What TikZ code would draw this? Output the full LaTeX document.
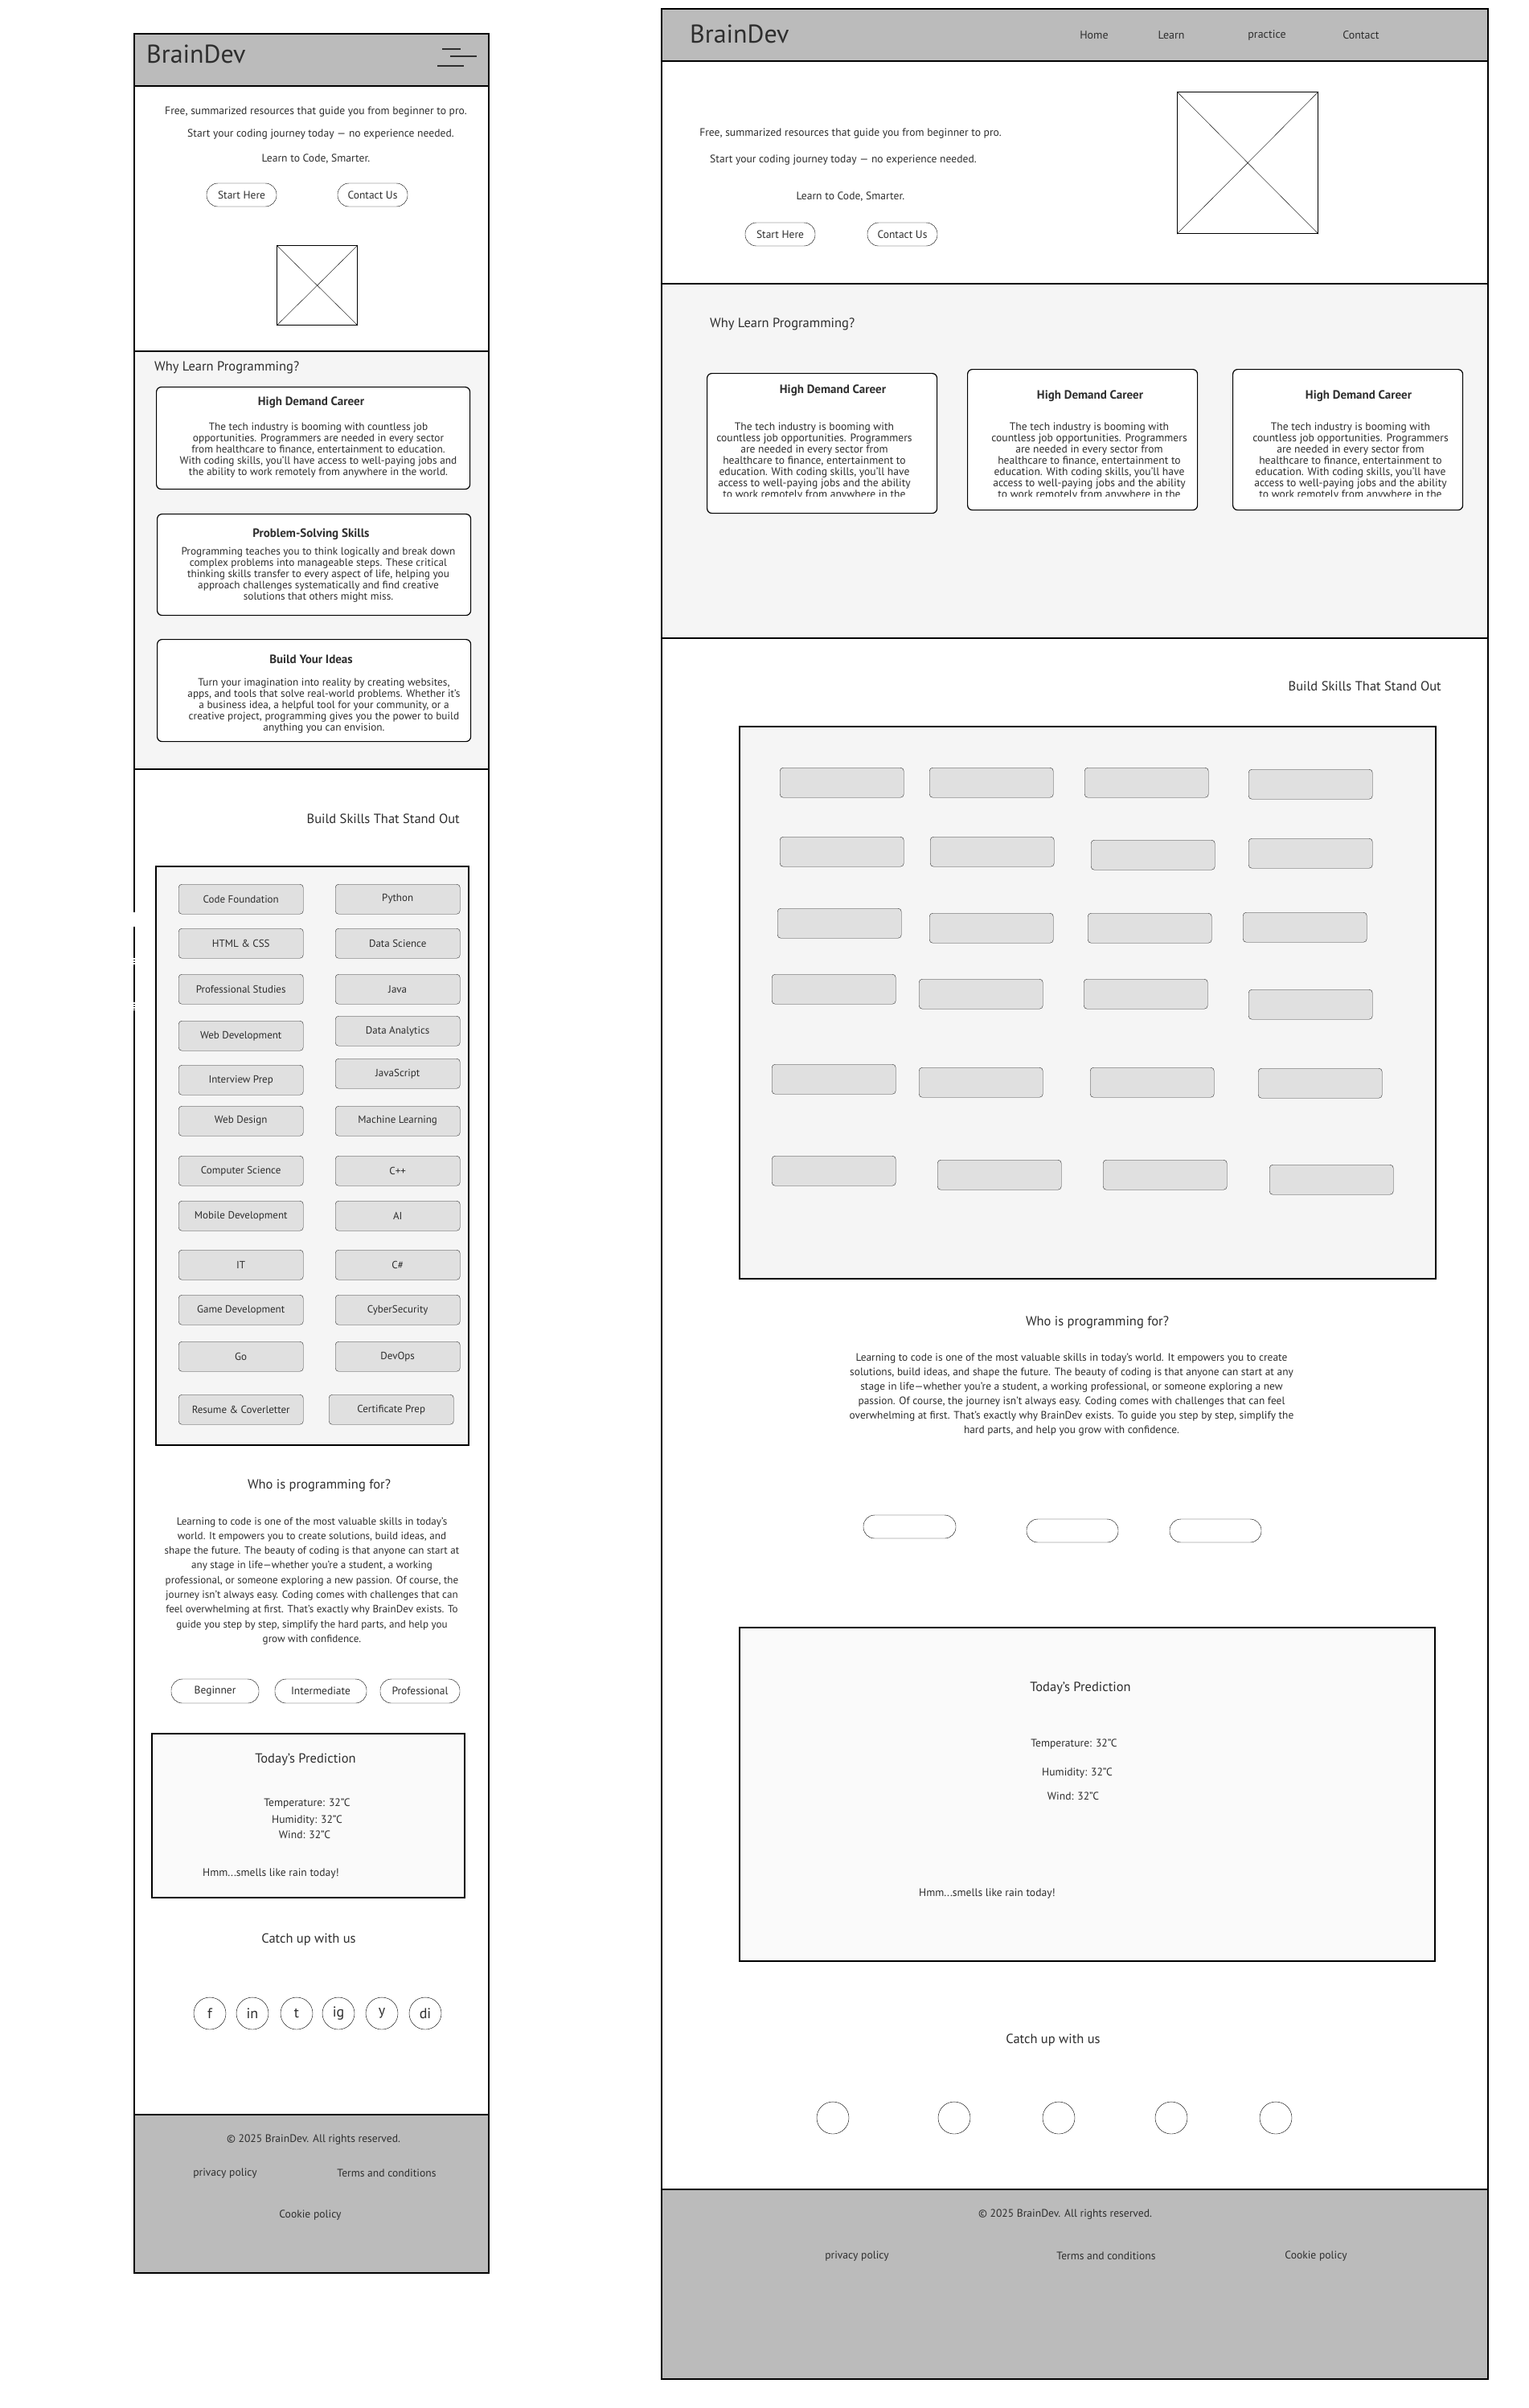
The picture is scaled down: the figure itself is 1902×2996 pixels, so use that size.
\documentclass[tikz,border=0pt]{standalone}
\usepackage{fontspec}
\setmainfont{PT Sans}
\usetikzlibrary{positioning}
\newcommand{\pxfont}[2]{\fontsize{#1}{#2}\selectfont}
\definecolor{ink}{HTML}{2E2E2E}
\definecolor{hdr}{HTML}{BBBBBB}
\definecolor{sect}{HTML}{F5F5F5}
\definecolor{skillgray}{HTML}{E0E0E0}
\definecolor{predfill}{HTML}{FAFAFA}
\begin{document}
\begin{tikzpicture}[x=1pt,y=-1pt]
\tikzset{txt/.style = {text=ink, inner sep=0pt, font=\pxfont{13.6}{16}}}
\tikzset{head/.style = {text=ink, inner sep=0pt, font=\pxfont{16.5}{20}}}
\tikzset{brand/.style = {text=ink, inner sep=0pt, font=\pxfont{32}{36}}}
\tikzset{nav/.style = {text=ink, inner sep=0pt, font=\pxfont{14}{16}}}
\tikzset{para/.style = {text=ink, inner sep=0pt, align=center, font=\pxfont{13.1}{18.3}}}
\tikzset{body/.style = {text=ink, inner sep=0pt, align=center, font=\pxfont{13.3}{14}}}
\tikzset{cardtitle/.style = {text=ink, inner sep=0pt, font=\bfseries\pxfont{15}{17}}}
\tikzset{pill/.style = {draw=black, rounded corners=14pt, inner sep=0pt, minimum height=29pt, text=ink, font=\pxfont{13.5}{15}}}
\tikzset{skill/.style = {draw=ink, fill=skillgray, rounded corners=4pt, minimum width=155pt, minimum height=37pt, inner sep=0pt, anchor=north west, text=ink, font=\pxfont{13}{15}}}
\tikzset{card/.style = {draw=black, fill=white, rounded corners=6pt, line width=1.2pt, inner sep=0pt, anchor=north west}}
\tikzset{social/.style = {draw=black, circle, minimum size=40pt, inner sep=0pt, text=ink, font=\pxfont{18}{20}}}
\tikzset{frame/.style = {draw=black, line width=1.5pt}}
\tikzset{imgbox/.style = {draw=black, line width=1.2pt, inner sep=0pt, anchor=north west}}
\useasboundingbox (0,0) rectangle (1902,2996);
\fill[white] (0,0) rectangle (1902,2996);

% mobile page
\fill[hdr] (167,42) rectangle (608,107);
\fill[sect] (167,437) rectangle (608,957);
\fill[hdr] (167,2631) rectangle (608,2828);
\draw[frame] (167,42) rectangle (608,2828);
\draw[frame] (167,107) -- (608,107);
\draw[frame] (167,437) -- (608,437);
\draw[frame] (167,957) -- (608,957);
\draw[frame] (167,2631) -- (608,2631);
% breaks in the left edge
\draw[white, line width=2.5pt] (167,1135) -- (167,1153);
\draw[white, line width=2.5pt, dash pattern=on 1.5pt off 1.5pt] (167,1192) -- (167,1200);
\draw[white, line width=2.5pt, dash pattern=on 1.5pt off 1.5pt] (167,1247) -- (167,1257);
\node[brand, anchor=base west] (mbrand) at (182,78) {BrainDev};
\draw[line width=2pt, ink] (550,61) -- (573,61);
\draw[line width=2pt, ink] (560,70) -- (593,70);
\draw[line width=2pt, ink] (544,82) -- (577,82);
% hero
\node[txt] (mfree) at (393,139) {Free, summarized resources that guide you from beginner to pro.};
\node[txt] (mstart) at (399,167) {Start your coding journey today — no experience needed.};
\node[txt] (mlearn) at (393,198) {Learn to Code, Smarter.};
\node[pill, minimum width=87pt] (mhere) at (300.5,242.5) {Start Here};
\node[pill, minimum width=87pt] (mcontact) at (463.5,242.5) {Contact Us};
\node[imgbox, minimum width=100pt, minimum height=99pt] (mimg) at (344,305) {};
\draw (mimg.north west) -- (mimg.south east);
\draw (mimg.north east) -- (mimg.south west);
% why
\node[head, anchor=west] (mwhy) at (192,457) {Why Learn Programming?};
\node[card, minimum width=390pt, minimum height=127pt] (mcard1) at (194,481) {};
\node[cardtitle] (mtitle1) at (387,501) {High Demand Career};
\node[body] (mbody1) at (396,560) {The tech industry is booming with countless job\\opportunities. Programmers are needed in every sector\\from healthcare to finance, entertainment to education.\\With coding skills, you'll have access to well-paying jobs and\\the ability to work remotely from anywhere in the world.};
\node[card, minimum width=390pt, minimum height=126pt] (mcard2) at (195,639) {};
\node[cardtitle] (mtitle2) at (387,665) {Problem-Solving Skills};
\node[body] (mbody2) at (396,715) {Programming teaches you to think logically and break down\\complex problems into manageable steps. These critical\\thinking skills transfer to every aspect of life, helping you\\approach challenges systematically and find creative\\solutions that others might miss.};
\node[card, minimum width=390pt, minimum height=127pt] (mcard3) at (195,795) {};
\node[cardtitle] (mtitle3) at (387,820) {Build Your Ideas};
\node[body] (mbody3) at (403,878) {Turn your imagination into reality by creating websites,\\apps, and tools that solve real-world problems. Whether it's\\a business idea, a helpful tool for your community, or a\\creative project, programming gives you the power to build\\anything you can envision.};
% skills
\node[head, anchor=east] (mskills) at (572,1019) {Build Skills That Stand Out};
\draw[fill=sect, line width=1.2pt] (194,1078) rectangle (583,1798);
\node[skill] (ms1) at (222,1100) {Code Foundation};
\node[skill] (ms2) at (417,1100) {Python};
\node[skill] (ms3) at (222,1155) {HTML \& CSS};
\node[skill] (ms4) at (417,1155) {Data Science};
\node[skill] (ms5) at (222,1212) {Professional Studies};
\node[skill] (ms6) at (417,1212) {Java};
\node[skill] (ms7) at (222,1270) {Web Development};
\node[skill] (ms8) at (417,1264) {Data Analytics};
\node[skill] (ms9) at (222,1325) {Interview Prep};
\node[skill] (ms10) at (417,1317) {JavaScript};
\node[skill] (ms11) at (222,1376) {Web Design};
\node[skill] (ms12) at (417,1376) {Machine Learning};
\node[skill] (ms13) at (222,1438) {Computer Science};
\node[skill] (ms14) at (417,1438) {C++};
\node[skill] (ms15) at (222,1494) {Mobile Development};
\node[skill] (ms16) at (417,1494) {AI};
\node[skill] (ms17) at (222,1555) {IT};
\node[skill] (ms18) at (417,1555) {C\#};
\node[skill] (ms19) at (222,1611) {Game Development};
\node[skill] (ms20) at (417,1611) {CyberSecurity};
\node[skill] (ms21) at (222,1669) {Go};
\node[skill] (ms22) at (417,1669) {DevOps};
\node[skill] (ms23) at (222,1735) {Resume \& Coverletter};
\node[skill] (ms24) at (409,1735) {Certificate Prep};
% who
\node[head] (mwho) at (397,1848) {Who is programming for?};
\node[para] (mwhotext) at (388,1967) {Learning to code is one of the most valuable skills in today's\\world. It empowers you to create solutions, build ideas, and\\shape the future. The beauty of coding is that anyone can start at\\any stage in life—whether you're a student, a working\\professional, or someone exploring a new passion. Of course, the\\journey isn't always easy. Coding comes with challenges that can\\feel overwhelming at first. That's exactly why BrainDev exists. To\\guide you step by step, simplify the hard parts, and help you\\grow with confidence.};
\node[pill, minimum width=109pt, minimum height=30pt] (mbeg) at (267.5,2104) {Beginner};
\node[pill, minimum width=114pt, minimum height=30pt] (minter) at (399,2104) {Intermediate};
\node[pill, minimum width=99pt, minimum height=30pt] (mpro) at (522.5,2104) {Professional};
% prediction
\draw[fill=predfill, line width=1.3pt] (189,2157) rectangle (578,2361);
\node[head] (mpred) at (380,2189) {Today's Prediction};
\node[txt] (mtemp) at (382,2244) {Temperature: 32"C};
\node[txt] (mhum) at (382,2265) {Humidity: 32"C};
\node[txt] (mwind) at (379,2283) {Wind: 32"C};
\node[txt] (mrain) at (337,2331) {Hmm...smells like rain today!};
% social
\node[head] (mcatch) at (384,2413) {Catch up with us};
\node[social] (mf) at (261,2505) {f};
\node[social] (min) at (314,2505) {in};
\node[social] (mt) at (369,2505) {t};
\node[social] (mig) at (421,2505) {ig};
\node[social] (my) at (475,2505) {y};
\node[social] (mdi) at (529,2505) {di};
% footer
\node[txt] (mcopy) at (390,2662) {© 2025 BrainDev. All rights reserved.};
\node[txt] (mprivacy) at (280,2704) {privacy policy};
\node[txt] (mterms) at (481,2704) {Terms and conditions};
\node[txt] (mcookie) at (386,2756) {Cookie policy};

% desktop page
\fill[hdr] (823,11) rectangle (1851,76);
\fill[sect] (823,353) rectangle (1851,794);
\fill[hdr] (823,2724) rectangle (1851,2960);
\draw[frame] (823,11) rectangle (1851,2960);
\draw[frame] (823,76) -- (1851,76);
\draw[frame] (823,353) -- (1851,353);
\draw[frame] (823,794) -- (1851,794);
\draw[frame] (823,2724) -- (1851,2724);
\node[brand, anchor=base west] (dbrand) at (858,53) {BrainDev};
\node[nav] (dhome) at (1361,44) {Home};
\node[nav] (dlearn) at (1457,44) {Learn};
\node[nav] (dpractice) at (1576,44) {practice};
\node[nav] (dcontact) at (1693,44) {Contact};
% hero
\node[txt] (dfree) at (1058,166) {Free, summarized resources that guide you from beginner to pro.};
\node[txt] (dstart) at (1049,199) {Start your coding journey today — no experience needed.};
\node[txt] (dlearn2) at (1058,245) {Learn to Code, Smarter.};
\node[pill, minimum width=87pt] (dhere) at (970.5,291.5) {Start Here};
\node[pill, minimum width=87pt] (dcontactus) at (1122.5,291.5) {Contact Us};
\node[imgbox, minimum width=175pt, minimum height=176pt] (dimg) at (1464,114) {};
\draw (dimg.north west) -- (dimg.south east);
\draw (dimg.north east) -- (dimg.south west);
% why
\node[head, anchor=west] (dwhy) at (883,403) {Why Learn Programming?};
\node[card, minimum width=286pt, minimum height=174pt] (dcard1) at (879,464) {};
\node[card, minimum width=286pt, minimum height=175pt] (dcard2) at (1203,459) {};
\node[card, minimum width=286pt, minimum height=175pt] (dcard3) at (1533,459) {};
\node[cardtitle] (dtitle1) at (1036,486) {High Demand Career};
\node[cardtitle] (dtitle2) at (1356,493) {High Demand Career};
\node[cardtitle] (dtitle3) at (1690,493) {High Demand Career};
\begin{scope}
\clip (879,464) rectangle (1851,617);
\node[body, font=\pxfont{13.6}{14}, anchor=north] (dbody1) at (1013,526) {The tech industry is booming with\\countless job opportunities. Programmers\\are needed in every sector from\\healthcare to finance, entertainment to\\education. With coding skills, you'll have\\access to well-paying jobs and the ability\\to work remotely from anywhere in the};
\node[body, font=\pxfont{13.6}{14}, anchor=north] (dbody2) at (1355,526) {The tech industry is booming with\\countless job opportunities. Programmers\\are needed in every sector from\\healthcare to finance, entertainment to\\education. With coding skills, you'll have\\access to well-paying jobs and the ability\\to work remotely from anywhere in the};
\node[body, font=\pxfont{13.6}{14}, anchor=north] (dbody3) at (1680,526) {The tech industry is booming with\\countless job opportunities. Programmers\\are needed in every sector from\\healthcare to finance, entertainment to\\education. With coding skills, you'll have\\access to well-paying jobs and the ability\\to work remotely from anywhere in the};
\end{scope}
% skills
\node[head, anchor=east] (dskills) at (1793,854) {Build Skills That Stand Out};
\draw[fill=sect, line width=1.2pt] (920,904) rectangle (1786,1591);
\node[skill, minimum width=154pt] (ds1) at (970,955) {};
\node[skill, minimum width=154pt] (ds2) at (1156,955) {};
\node[skill, minimum width=154pt] (ds3) at (1349,955) {};
\node[skill, minimum width=154pt] (ds4) at (1553,957) {};
\node[skill, minimum width=154pt] (ds5) at (970,1041) {};
\node[skill, minimum width=154pt] (ds6) at (1157,1041) {};
\node[skill, minimum width=154pt] (ds7) at (1357,1045) {};
\node[skill, minimum width=154pt] (ds8) at (1553,1043) {};
\node[skill, minimum width=154pt] (ds9) at (967,1130) {};
\node[skill, minimum width=154pt] (ds10) at (1156,1136) {};
\node[skill, minimum width=154pt] (ds11) at (1353,1136) {};
\node[skill, minimum width=154pt] (ds12) at (1546,1135) {};
\node[skill, minimum width=154pt] (ds13) at (960,1212) {};
\node[skill, minimum width=154pt] (ds14) at (1143,1218) {};
\node[skill, minimum width=154pt] (ds15) at (1348,1218) {};
\node[skill, minimum width=154pt] (ds16) at (1553,1231) {};
\node[skill, minimum width=154pt] (ds17) at (960,1324) {};
\node[skill, minimum width=154pt] (ds18) at (1143,1328) {};
\node[skill, minimum width=154pt] (ds19) at (1356,1328) {};
\node[skill, minimum width=154pt] (ds20) at (1565,1329) {};
\node[skill, minimum width=154pt] (ds21) at (960,1438) {};
\node[skill, minimum width=154pt] (ds22) at (1166,1443) {};
\node[skill, minimum width=154pt] (ds23) at (1372,1443) {};
\node[skill, minimum width=154pt] (ds24) at (1579,1449) {};
% who
\node[head] (dwho) at (1365,1645) {Who is programming for?};
\node[para, font=\pxfont{13.4}{18}] (dwhotext) at (1333,1735) {Learning to code is one of the most valuable skills in today's world. It empowers you to create\\solutions, build ideas, and shape the future. The beauty of coding is that anyone can start at any\\stage in life—whether you're a student, a working professional, or someone exploring a new\\passion. Of course, the journey isn't always easy. Coding comes with challenges that can feel\\overwhelming at first. That's exactly why BrainDev exists. To guide you step by step, simplify the\\hard parts, and help you grow with confidence.};
\node[pill, minimum width=115pt] (dbeg) at (1131.5,1899.5) {};
\node[pill, minimum width=114pt] (dinter) at (1334,1904.5) {};
\node[pill, minimum width=114pt] (dpro) at (1512,1904.5) {};
% prediction
\draw[fill=predfill, line width=1.3pt] (920,2025) rectangle (1785,2440);
\node[head] (dpred) at (1344,2100) {Today's Prediction};
\node[txt] (dtemp) at (1336,2170) {Temperature: 32"C};
\node[txt] (dhum) at (1340,2206) {Humidity: 32"C};
\node[txt] (dwind) at (1335,2235) {Wind: 32"C};
\node[txt] (drain) at (1228,2356) {Hmm...smells like rain today!};
% social
\node[head] (dcatch) at (1310,2538) {Catch up with us};
\node[social] (dc1) at (1036,2635) {};
\node[social] (dc2) at (1187,2635) {};
\node[social] (dc3) at (1317,2635) {};
\node[social] (dc4) at (1457,2635) {};
\node[social] (dc5) at (1587,2635) {};
% footer
\node[txt] (dcopy) at (1325,2755) {© 2025 BrainDev. All rights reserved.};
\node[txt] (dprivacy) at (1066,2807) {privacy policy};
\node[txt] (dterms) at (1376,2807) {Terms and conditions};
\node[txt] (dcookie) at (1637,2807) {Cookie policy};
\end{tikzpicture}
\end{document}
